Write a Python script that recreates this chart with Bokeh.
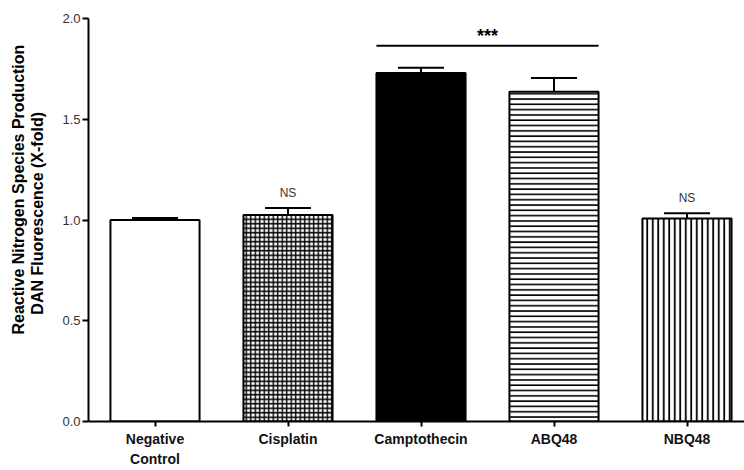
from bokeh.plotting import figure
from bokeh.models import ColumnDataSource, Range1d, FixedTicker, Whisker, TeeHead, NumeralTickFormatter, Title
from bokeh.embed import file_html
from bokeh.resources import INLINE
from bokeh.core.properties import value

categories = ["Negative\nControl", "Cisplatin", "Camptothecin", "ABQ48", "NBQ48"]
means = [1.00, 1.025, 1.73, 1.637, 1.007]
sems = [0.010, 0.035, 0.025, 0.068, 0.027]
fills = ["white", "white", "black", "white", "white"]
hatches = [" ", "cross", " ", "horizontal_line", "vertical_line"]
y_ticks = [0.0, 0.5, 1.0, 1.5, 2.0]
ns_labels = ["", "NS", "", "", "NS"]
sig_label = "***"
sig_pair = [2, 3]
y_label_lines = ["Reactive Nitrogen Species Production", "DAN Fluorescence (X-fold)"]

xs = list(range(len(categories)))
bar_w = 0.67
left_px = 88
width_px = 744
height_px = 470
x_end = -0.5 + (width_px - left_px) / 133

src = ColumnDataSource(dict(
    x=xs, top=means, fill=fills, hatch=hatches,
    hscale=[4.5, 4.5, 4.5, 5.3, 5.5],
    hweight=[1.4, 1.4, 1.4, 1.6, 1.8],
    upper=[m + s for m, s in zip(means, sems)],
    lower=[m - s for m, s in zip(means, sems)],
))

p = figure(width=width_px, height=height_px, output_backend="svg", toolbar_location=None,
           x_range=Range1d(-0.5, x_end), y_range=Range1d(0, 2.0),
           min_border_left=left_px, min_border_right=0, min_border_top=18, min_border_bottom=48)
p.outline_line_color = None
p.xgrid.grid_line_color = None
p.ygrid.grid_line_color = None
p.background_fill_color = "white"
p.border_fill_color = "white"

p.vbar(x="x", top="top", width=bar_w, bottom=0, source=src,
       fill_color="fill", line_color="black", line_width=2,
       hatch_pattern="hatch", hatch_color="black",
       hatch_scale="hscale", hatch_weight="hweight")

wh = Whisker(base="x", upper="upper", lower="lower", source=src,
             line_color="black", line_width=2,
             upper_head=TeeHead(size=46, line_width=2, line_color="black"),
             lower_head=TeeHead(size=46, line_width=2, line_color="black"))
p.add_layout(wh)

# NS labels
ns_x = [x for x, t in zip(xs, ns_labels) if t]
ns_y = [means[i] + sems[i] + 0.075 for i, t in enumerate(ns_labels) if t]
ns_t = [t for t in ns_labels if t]
p.text(x=ns_x, y=ns_y, text=ns_t, text_align="center", text_baseline="middle",
       text_font=value("Liberation Sans"), text_font_size="12px", text_color="#333333")

# significance bar
x0 = sig_pair[0] - bar_w / 2
x1 = sig_pair[1] + bar_w / 2
top_y = max(means[i] + sems[i] for i in sig_pair)
line_y = top_y + 0.11
p.line(x=[x0, x1], y=[line_y, line_y], line_color="black", line_width=2)
p.text(x=[(x0 + x1) / 2], y=[line_y + 0.05], text=[sig_label], text_align="center",
       text_baseline="middle", text_font=value("Liberation Sans"), text_font_style="bold",
       text_font_size="18px", text_color="black")

# outer line of the y-axis title
t = Title(text=y_label_lines[0], align="left", offset=87, standoff=0, text_font="Liberation Sans",
          text_font_style="bold", text_font_size="16px", text_color="black")
p.add_layout(t, "left")

# axes
pad = "\u00a0" * 3
p.yaxis.ticker = FixedTicker(ticks=y_ticks)
p.yaxis.formatter = NumeralTickFormatter(format="0.0")
p.yaxis.major_tick_out = 6
p.yaxis.major_tick_in = 0
p.yaxis.minor_tick_line_color = None
p.yaxis.axis_line_width = 2
p.yaxis.major_tick_line_width = 2
p.yaxis.major_label_text_font = "Liberation Sans"
p.yaxis.major_label_text_font_size = "13px"
p.yaxis.major_label_text_color = "#333333"
p.yaxis.major_label_standoff = 2
p.yaxis.axis_label = pad + y_label_lines[1]
p.yaxis.axis_label_text_font = "Liberation Sans"
p.yaxis.axis_label_text_font_style = "bold"
p.yaxis.axis_label_text_font_size = "16px"
p.yaxis.axis_label_text_color = "black"
p.yaxis.axis_label_standoff = 13

p.xaxis.ticker = FixedTicker(ticks=xs)
p.xaxis.major_label_overrides = {i: c for i, c in zip(xs, categories)}
p.xaxis.major_tick_out = 5
p.xaxis.major_tick_in = 0
p.xaxis.minor_tick_line_color = None
p.xaxis.axis_line_width = 2
p.xaxis.major_tick_line_width = 2
p.xaxis.major_label_text_font = "Liberation Sans"
p.xaxis.major_label_text_font_style = "bold"
p.xaxis.major_label_text_font_size = "14px"
p.xaxis.major_label_text_color = "#111111"
p.xaxis.major_label_text_line_height = 1.3
p.xaxis.major_label_standoff = 4

open("out.html", "w").write(file_html(p, INLINE))
